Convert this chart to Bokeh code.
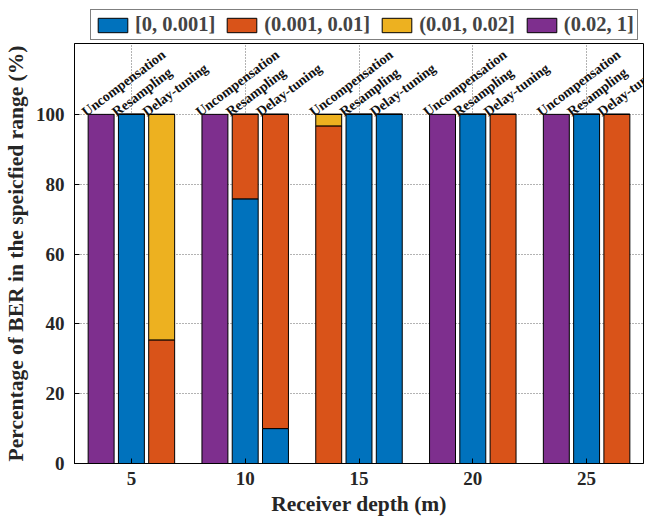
from bokeh.plotting import figure
from bokeh.layouts import column
from bokeh.models import ColumnDataSource, LabelSet, Legend, LegendItem
from bokeh.embed import file_html
from bokeh.resources import INLINE

# ---- data ----
depths = [5, 10, 15, 20, 25]
methods = ["Uncompensation", "Resampling", "Delay-tuning"]
bins = ["[0, 0.001]", "(0.001, 0.01]", "(0.01, 0.02]", "(0.02, 1]"]
y_ticks = [0, 20, 40, 60, 80, 100]

# percentage of BER in each bin, per depth
uncomp_b1 = [0, 0, 0, 0, 0]
uncomp_b2 = [0, 0, 96.7, 0, 0]
uncomp_b3 = [0, 0, 3.3, 0, 0]
uncomp_b4 = [100, 100, 0, 100, 100]

resamp_b1 = [100, 75.8, 100, 100, 100]
resamp_b2 = [0, 24.2, 0, 0, 0]
resamp_b3 = [0, 0, 0, 0, 0]
resamp_b4 = [0, 0, 0, 0, 0]

delay_b1 = [0, 10, 100, 0, 0]
delay_b2 = [35.4, 90, 0, 100, 100]
delay_b3 = [64.6, 0, 0, 0, 0]
delay_b4 = [0, 0, 0, 0, 0]

series = [
    (uncomp_b1, uncomp_b2, uncomp_b3, uncomp_b4),
    (resamp_b1, resamp_b2, resamp_b3, resamp_b4),
    (delay_b1, delay_b2, delay_b3, delay_b4),
]
colors = ["#0072BD", "#D95319", "#EDB120", "#7E2F8E"]

FONT = "Liberation Serif"
offsets = [-1.33, 0.0, 1.33]
bar_w = 1.14

# ---- legend strip (own canvas above the plot) ----
leg = figure(width=665, height=43, x_range=(0, 1), y_range=(0, 1),
             output_backend="svg", toolbar_location=None,
             x_axis_location=None, y_axis_location=None, min_border=0)
leg.grid.visible = False
leg.outline_line_color = None
leg_items = []
for b, c in zip(bins, colors):
    # proxy glyph lying outside the visible range; only its legend swatch is seen
    r = leg.vbar(x=[-5], top=[-5], width=1, fill_color=c, line_color="black", line_width=1)
    leg_items.append(LegendItem(label=b, renderers=[r]))
legend = Legend(items=leg_items, orientation="horizontal", location=(16, 3),
                label_text_font=FONT, label_text_font_style="bold", label_text_font_size="20.5px",
                glyph_width=37, glyph_height=18, label_standoff=4, spacing=8,
                padding=3, margin=0, border_line_color="black", border_line_width=1.2,
                background_fill_alpha=1.0, label_height=19)
leg.add_layout(legend, "center")

# ---- main plot ----
p = figure(width=665, height=475, x_range=(2.5, 27.5), y_range=(0, 120.3),
           output_backend="svg", toolbar_location=None,
           min_border_left=73, min_border_right=22, min_border_top=0, min_border_bottom=55)

for m, (name, vals) in enumerate(zip(methods, series)):
    xs = [d + offsets[m] for d in depths]
    src = ColumnDataSource(dict(x=xs, b1=vals[0], b2=vals[1], b3=vals[2], b4=vals[3]))
    p.vbar_stack(["b1", "b2", "b3", "b4"], x="x", width=bar_w, source=src,
                 fill_color=colors, line_color="black", line_width=1)
    lab_src = ColumnDataSource(dict(x=[d + offsets[m] - bar_w / 2 for d in depths],
                                    y=[100] * len(depths), text=[name] * len(depths)))
    p.add_layout(LabelSet(x="x", y="y", text="text", source=lab_src, angle=37, angle_units="deg",
                          text_font=FONT, text_font_style="bold", text_font_size="14px",
                          text_color="#111111",
                          text_baseline="bottom", text_align="left", x_offset=0, y_offset=-5))

for ax in (p.xaxis, p.yaxis):
    ax.major_label_text_font = FONT
    ax.major_label_text_font_style = "bold"
    ax.major_label_text_font_size = "19px"
    ax.axis_label_text_font = FONT
    ax.axis_label_text_font_style = "bold"
    ax.axis_label_text_font_size = "21.5px"
    ax.major_tick_in = 5
    ax.major_tick_out = 0
    ax.minor_tick_line_color = None
    ax.axis_line_color = "black"
    ax.major_tick_line_color = "black"
    ax.major_label_text_color = "#262626"
    ax.axis_label_text_color = "#262626"

p.xaxis.ticker = depths
p.yaxis.ticker = y_ticks
p.xaxis.axis_label = "Receiver depth (m)"
p.yaxis.axis_label = "Percentage of BER in the speicfied range (%)"
p.xaxis.major_label_standoff = 8
p.xaxis.axis_label_standoff = 4
p.yaxis.major_label_standoff = 10
p.yaxis.axis_label_standoff = 5

p.xgrid.ticker = depths
p.ygrid.ticker = y_ticks
p.grid.grid_line_dash = "1 2"
p.grid.grid_line_color = "#262626"
p.grid.grid_line_alpha = 0.7
p.outline_line_color = "black"
p.outline_line_width = 1

open("out.html", "w").write(file_html(column(leg, p, spacing=0), INLINE))
